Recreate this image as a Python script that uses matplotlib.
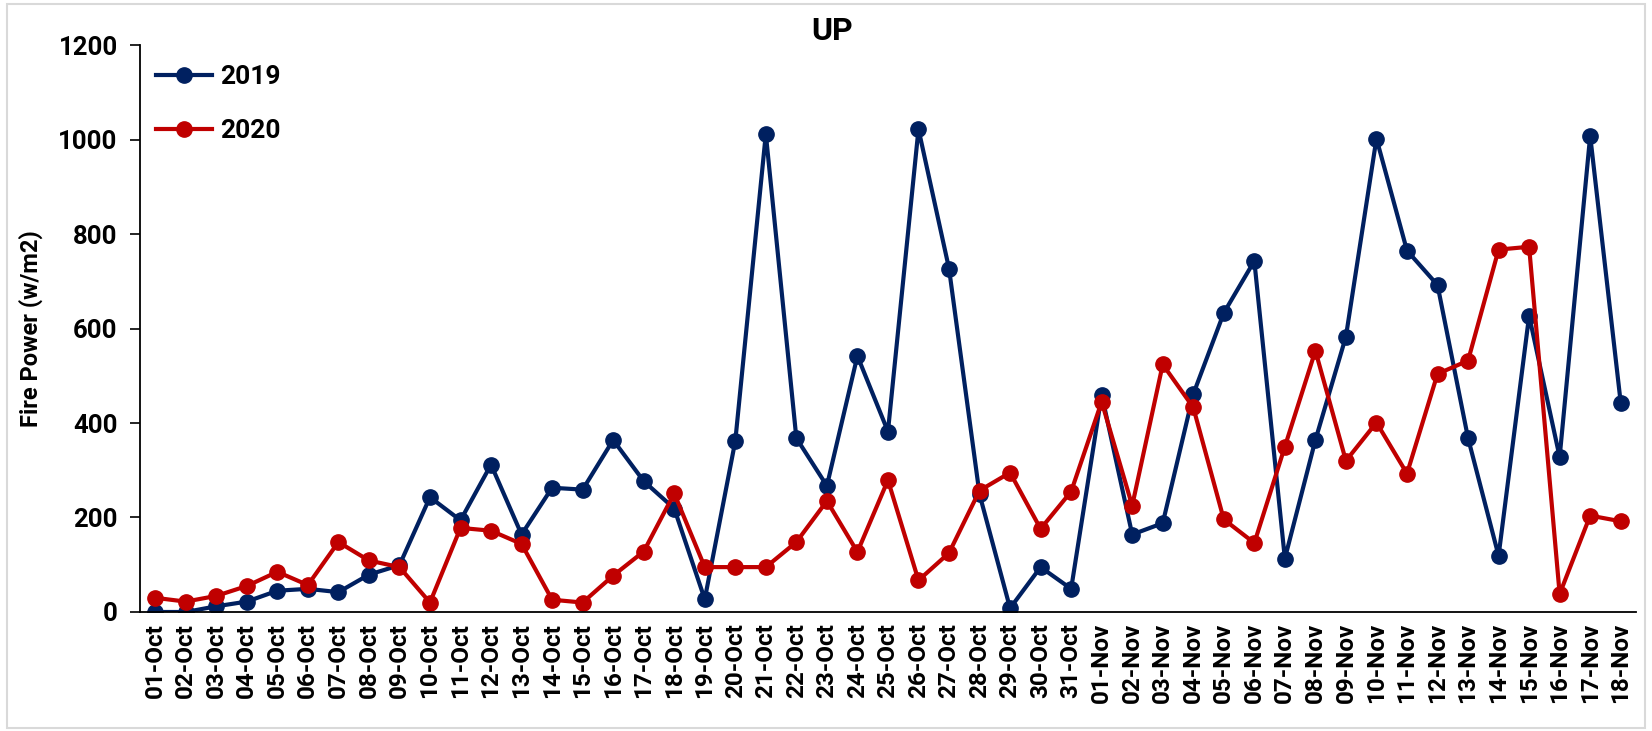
import matplotlib
matplotlib.use("Agg")
import matplotlib.pyplot as plt
from matplotlib.patches import Rectangle

# dates on the category axis
dates = ([f"{d:02d}-Oct" for d in range(1, 32)] +
         [f"{d:02d}-Nov" for d in range(1, 19)])

# fire power values
fp_2019 = [0, 0, 12, 22, 45, 49, 42, 79, 99, 243, 194, 312, 164, 263,
           259, 364, 277, 219, 27, 362, 1012, 368, 267, 542, 382, 1022, 727,
           249, 8, 95, 49,
           460, 164, 188, 461, 633, 743, 113, 364, 583, 1002, 765, 692, 368,
           119, 627, 328, 1008, 443]
fp_2020 = [30, 22, 34, 55, 85, 57, 148, 109, 95, 20, 178, 172, 144, 26,
           20, 77, 128, 251, 95, 95, 95, 148, 235, 127, 279, 67, 125,
           257, 295, 176, 255,
           445, 225, 524, 433, 196, 146, 350, 553, 320, 401, 293, 504, 532,
           767, 773, 38, 204, 192]

navy = "#002060"
red = "#C00000"

plt.rcParams['font.family'] = ['Roboto', 'DejaVu Sans']
plt.rcParams['font.weight'] = 'bold'

fig = plt.figure(figsize=(16.52, 7.31), dpi=100)
ax = fig.add_axes([0.0847, 0.1628, 0.9056, 0.7756])

x = list(range(len(dates)))
ax.plot(x, fp_2019, color=navy, lw=3, marker="o", ms=11, label="2019")
ax.plot(x, fp_2020, color=red, lw=3, marker="o", ms=11, label="2020")

ax.set_xlim(-0.5, len(dates) - 0.5)
ax.set_ylim(0, 1200)
ax.set_yticks(range(0, 1201, 200))
ax.set_xticks(x)
ax.set_xticklabels(dates, rotation=90, fontsize=17.5, fontweight="bold")
for lbl in ax.get_yticklabels():
    lbl.set_fontsize(18.5)
    lbl.set_fontweight("bold")
ax.tick_params(axis="x", length=0, pad=8)
ax.tick_params(axis="y", length=7, width=1.2, direction="out", pad=9)

for side in ["top", "right"]:
    ax.spines[side].set_visible(False)
for side in ["left", "bottom"]:
    ax.spines[side].set_linewidth(1.3)

ax.set_ylabel("Fire Power (w/m2)", fontsize=17, fontweight="bold",
              labelpad=11)

ax.legend(loc="upper left", bbox_to_anchor=(0.004, 0.983), borderaxespad=0,
          frameon=False, handlelength=2.1, labelspacing=1.12,
          handletextpad=0.3, prop={"size": 19, "weight": "bold"})

fig.text(0.504, 0.957, "UP", ha="center", va="center", fontsize=23,
         fontweight="bold")

# light chart-area border
fig.patches.append(Rectangle((0.004, 0.004), 0.992, 0.99,
                             transform=fig.transFigure, fill=False,
                             edgecolor="#d9d9d9", lw=1.5))

fig.savefig("out.png", dpi=100)
